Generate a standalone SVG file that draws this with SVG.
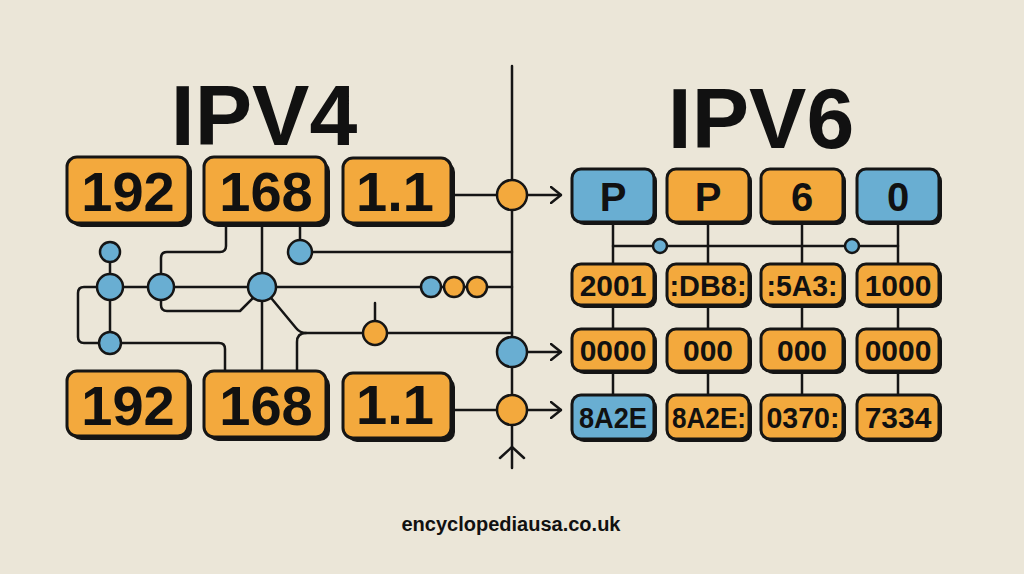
<svg xmlns="http://www.w3.org/2000/svg" width="1024" height="574" viewBox="0 0 1024 574">
<defs>
<marker id="arr" viewBox="0 0 12 18" markerWidth="12" markerHeight="18" refX="11" refY="9" orient="auto" markerUnits="userSpaceOnUse"><path d="M1,1 L11,9 L1,17" fill="none" stroke="#151515" stroke-width="2.5" stroke-linecap="round" stroke-linejoin="round"/></marker>
</defs>
<style>
.bg{fill:#ebe6d8}
.sh{fill:#151515}
.o{fill:#f3a93d;stroke:#151515;stroke-width:3}
.b{fill:#69aed2;stroke:#151515;stroke-width:3}
.cb{fill:#69aed2;stroke:#151515;stroke-width:2.5}
.co{fill:#f3a93d;stroke:#151515;stroke-width:2.5}
.w{fill:none;stroke:#151515;stroke-width:2.5;stroke-linecap:round;stroke-linejoin:round}
.t{font-family:"Liberation Sans",Arial,sans-serif;font-weight:bold;fill:#111;text-anchor:middle}
.big{font-size:56px}
.r1{font-size:40px}
.rs{font-size:30px}
</style>
<rect class="bg" x="0" y="0" width="1024" height="574"/>

<g id="connectors">
<path class="w" d="M110,287 H512"/>
<path class="w" d="M110,287 H84 Q78,287 78,293 V337 Q78,343 84,343 H219 Q225,343 225,349 V371"/>
<path class="w" d="M110,252 V343"/>
<path class="w" d="M161,287 V258 Q161,252 167,252 H220 Q226,252 226,246 V226"/>
<path class="w" d="M161,287 V305 Q161,311 167,311 H240 L262,289"/>
<path class="w" d="M262,226 V371"/>
<path class="w" d="M262,287 L296,328 Q300,333 306,333 H512"/>
<path class="w" d="M306,333 Q297,333 297,342 V371"/>
<path class="w" d="M300,226 V252 H512"/>
<path class="w" d="M375,303 V321"/>
<path class="w" d="M451,195 H512"/>
<path class="w" d="M451,410 H512"/>
<path class="w" d="M512,66 V468"/>
<path class="w" d="M527,195 H561" marker-end="url(#arr)"/>
<path class="w" d="M527,352 H561" marker-end="url(#arr)"/>
<path class="w" d="M527,410 H561" marker-end="url(#arr)"/>
<path class="w" d="M500,458 L512,447 L524,458"/>
<path class="w" d="M613,222 V395"/>
<path class="w" d="M708,222 V395"/>
<path class="w" d="M802,222 V395"/>
<path class="w" d="M898,222 V395"/>
<path class="w" d="M613,246 H898"/>
</g>

<g id="title-ipv4"><text class="t" x="264" y="145" font-size="86">IPV4</text></g>
<g id="title-ipv6"><text class="t" x="761" y="148" font-size="86">IPV6</text></g>

<g id="v4-top-192"><rect class="sh" x="71" y="161" width="121" height="66" rx="10"/><rect class="o" x="67" y="157" width="121" height="66" rx="10"/><text class="t big" x="128" y="211">192</text></g>
<g id="v4-top-168"><rect class="sh" x="208" y="161" width="122" height="66" rx="10"/><rect class="o" x="204" y="157" width="122" height="66" rx="10"/><text class="t big" x="266" y="211">168</text></g>
<g id="v4-top-11"><rect class="sh" x="347" y="162" width="108" height="65" rx="10"/><rect class="o" x="343" y="158" width="108" height="65" rx="10"/><text class="t big" x="395" y="211">1.1</text></g>

<g id="v4-bot-192"><rect class="sh" x="71" y="375" width="121" height="65" rx="10"/><rect class="o" x="67" y="371" width="121" height="65" rx="10"/><text class="t big" x="128" y="425">192</text></g>
<g id="v4-bot-168"><rect class="sh" x="208" y="375" width="122" height="66" rx="10"/><rect class="o" x="204" y="371" width="122" height="66" rx="10"/><text class="t big" x="266" y="425">168</text></g>
<g id="v4-bot-11"><rect class="sh" x="347" y="377" width="108" height="65" rx="10"/><rect class="o" x="343" y="373" width="108" height="65" rx="10"/><text class="t big" x="395" y="424">1.1</text></g>

<g id="n-a"><circle class="cb" cx="110" cy="252" r="10"/></g>
<g id="n-b"><circle class="cb" cx="110" cy="287" r="13"/></g>
<g id="n-c"><circle class="cb" cx="110" cy="343" r="11"/></g>
<g id="n-d"><circle class="cb" cx="161" cy="287" r="13"/></g>
<g id="n-e"><circle class="cb" cx="262" cy="287" r="14"/></g>
<g id="n-f"><circle class="cb" cx="300" cy="252" r="12"/></g>
<g id="n-g"><circle class="cb" cx="431" cy="287" r="10"/></g>
<g id="n-g2"><circle class="co" cx="454" cy="287" r="10"/></g>
<g id="n-g3"><circle class="co" cx="477" cy="287" r="10"/></g>
<g id="n-h"><circle class="co" cx="375" cy="333" r="12"/></g>

<g id="hub-1"><circle class="co" cx="512" cy="195" r="15"/></g>
<g id="hub-2"><circle class="cb" cx="512" cy="352" r="15"/></g>
<g id="hub-3"><circle class="co" cx="512" cy="410" r="15"/></g>

<g id="dot-1"><circle class="cb" cx="660" cy="246" r="7"/></g>
<g id="dot-2"><circle class="cb" cx="852" cy="246" r="7"/></g>

<g id="v6-r1c1"><rect class="sh" x="575" y="172" width="82" height="53" rx="9"/><rect class="b" x="572" y="169" width="82" height="53" rx="9"/><text class="t r1" x="613" y="211">P</text></g>
<g id="v6-r1c2"><rect class="sh" x="670" y="172" width="82" height="53" rx="9"/><rect class="o" x="667" y="169" width="82" height="53" rx="9"/><text class="t r1" x="708" y="211">P</text></g>
<g id="v6-r1c3"><rect class="sh" x="764" y="172" width="82" height="53" rx="9"/><rect class="o" x="761" y="169" width="82" height="53" rx="9"/><text class="t r1" x="802" y="211">6</text></g>
<g id="v6-r1c4"><rect class="sh" x="860" y="172" width="82" height="53" rx="9"/><rect class="b" x="857" y="169" width="82" height="53" rx="9"/><text class="t r1" x="898" y="211">0</text></g>

<g id="v6-r2c1"><rect class="sh" x="575" y="267" width="82" height="41" rx="9"/><rect class="o" x="572" y="264" width="82" height="41" rx="9"/><text class="t rs" x="613" y="296">2001</text></g>
<g id="v6-r2c2"><rect class="sh" x="670" y="267" width="82" height="41" rx="9"/><rect class="o" x="667" y="264" width="82" height="41" rx="9"/><text class="t rs" x="708" y="296" textLength="77" lengthAdjust="spacingAndGlyphs">:DB8:</text></g>
<g id="v6-r2c3"><rect class="sh" x="764" y="267" width="82" height="41" rx="9"/><rect class="o" x="761" y="264" width="82" height="41" rx="9"/><text class="t rs" x="802" y="296" textLength="71" lengthAdjust="spacingAndGlyphs">:5A3:</text></g>
<g id="v6-r2c4"><rect class="sh" x="860" y="267" width="82" height="41" rx="9"/><rect class="o" x="857" y="264" width="82" height="41" rx="9"/><text class="t rs" x="898" y="296">1000</text></g>

<g id="v6-r3c1"><rect class="sh" x="575" y="332" width="82" height="42" rx="9"/><rect class="o" x="572" y="329" width="82" height="42" rx="9"/><text class="t rs" x="613" y="361">0000</text></g>
<g id="v6-r3c2"><rect class="sh" x="670" y="332" width="82" height="42" rx="9"/><rect class="o" x="667" y="329" width="82" height="42" rx="9"/><text class="t rs" x="708" y="361">000</text></g>
<g id="v6-r3c3"><rect class="sh" x="764" y="332" width="82" height="42" rx="9"/><rect class="o" x="761" y="329" width="82" height="42" rx="9"/><text class="t rs" x="802" y="361">000</text></g>
<g id="v6-r3c4"><rect class="sh" x="860" y="332" width="82" height="42" rx="9"/><rect class="o" x="857" y="329" width="82" height="42" rx="9"/><text class="t rs" x="898" y="361">0000</text></g>

<g id="v6-r4c1"><rect class="sh" x="575" y="398" width="82" height="44" rx="9"/><rect class="b" x="572" y="395" width="82" height="44" rx="9"/><text class="t rs" x="613" y="428" textLength="68" lengthAdjust="spacingAndGlyphs">8A2E</text></g>
<g id="v6-r4c2"><rect class="sh" x="670" y="398" width="82" height="44" rx="9"/><rect class="o" x="667" y="395" width="82" height="44" rx="9"/><text class="t rs" x="709" y="428" textLength="74" lengthAdjust="spacingAndGlyphs">8A2E:</text></g>
<g id="v6-r4c3"><rect class="sh" x="764" y="398" width="82" height="44" rx="9"/><rect class="o" x="761" y="395" width="82" height="44" rx="9"/><text class="t rs" x="803" y="428" textLength="73" lengthAdjust="spacingAndGlyphs">0370:</text></g>
<g id="v6-r4c4"><rect class="sh" x="860" y="398" width="82" height="44" rx="9"/><rect class="o" x="857" y="395" width="82" height="44" rx="9"/><text class="t rs" x="898" y="428">7334</text></g>

<g id="footer"><text class="t" x="511" y="531" font-size="20">encyclopediausa.co.uk</text></g>
</svg>
